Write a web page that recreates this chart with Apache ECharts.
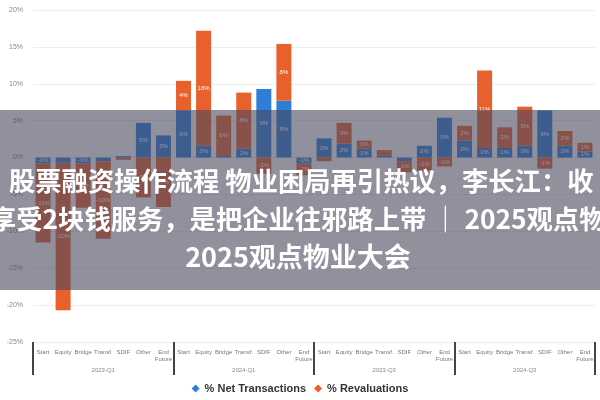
<!DOCTYPE html>
<html>
<head>
<meta charset="utf-8">
<script src="https://cdn.jsdelivr.net/npm/echarts@6/dist/echarts.min.js"></script>
<style>
html,body{margin:0;padding:0;background:#fff;}
#c{width:600px;height:400px;}
</style>
</head>
<body>
<div id="c"></div>
<script>
var categories = [
  "Start","Equity","Bridge","Transf.","SDIF","Other","End\nFuture",
  "Start","Equity","Bridge","Transf.","SDIF","Other","End\nFuture",
  "Start","Equity","Bridge","Transf.","SDIF","Other","End\nFuture",
  "Start","Equity","Bridge","Transf.","SDIF","Other","End\nFuture"
];
var groups = ["2023-Q1","2024-Q1","2023-Q3","2024-Q3"];
var netTransactions = [
  -0.8,-0.7,-0.8,-0.5,0.2,4.7,3.0,
  6.4,1.6,0.2,1.2,9.3,7.7,-0.8,
  2.6,1.9,1.2,0.3,-0.5,1.6,5.4,
  2.3,1.3,1.3,1.6,6.4,1.6,0.8
];
var revaluations = [
  -10.7,-20.0,-6.0,-10.5,-0.3,-5.4,-6.7,
  4.0,15.6,5.5,7.6,-2.2,7.7,-1.6,
  -0.5,2.8,1.1,0.7,-1.5,-1.8,-1.2,
  2.0,10.5,2.8,5.3,-1.5,2.0,1.2
];
var yTicks = {min:-25, max:20, interval:5};
var titleLines = [
  "股票融资操作流程 物业困局再引热议，李长江：收",
  "享受2块钱服务，是把企业往邪路上带 ｜ 2025观点物",
  "2025观点物业大会"
];

var chart = echarts.init(document.getElementById('c'));
function lbl(p){ return Math.abs(p.value) < 0.8 ? '' : Math.round(p.value) + '%'; }
chart.setOption({
  animation:false,
  grid:{left:33,right:5,top:10,bottom:58},
  legend:{
    bottom:1, left:'center', itemWidth:8, itemHeight:8, itemGap:8,
    textStyle:{fontSize:11,fontWeight:'bold',color:'#333'},
    data:[{name:'% Net Transactions',icon:'diamond'},{name:'% Revaluations',icon:'diamond'}]
  },
  xAxis:[
    {type:'category', data:categories, position:'bottom',
     axisLine:{show:false}, axisTick:{show:false},
     axisLabel:{fontSize:6,color:'#777',interval:0,margin:7,lineHeight:7}},
    {type:'category', data:groups, position:'bottom',
     axisLine:{show:false},
     axisTick:{show:true,length:33,lineStyle:{color:'#444',width:2}},
     axisLabel:{fontSize:6,color:'#888',margin:25}}
  ],
  yAxis:{type:'value', min:yTicks.min, max:yTicks.max, interval:yTicks.interval,
    axisLabel:{formatter:'{value}%',fontSize:7,color:'#888',margin:10},
    splitLine:{lineStyle:{color:'#eee'}}, axisLine:{show:false}, axisTick:{show:false}},
  series:[
    {name:'% Net Transactions', type:'bar', stack:'s', data:netTransactions, barWidth:15,
     itemStyle:{color:'#2f7ed8'},
     label:{show:true,position:'inside',color:'#fff',fontSize:6,formatter:lbl}},
    {name:'% Revaluations', type:'bar', stack:'s', data:revaluations, barWidth:15,
     itemStyle:{color:'#e8602c'},
     label:{show:true,position:'inside',color:'#fff',fontSize:6,formatter:lbl}}
  ],
  graphic:[
    {type:'rect', shape:{x:0,y:110,width:600,height:180}, style:{fill:'rgba(72,72,94,0.6)'}, z:100},
    {type:'text', x:9, y:181, z:101, style:{text:titleLines[0], fill:'#fff', font:'bold 26.3px "Noto Sans CJK SC"', textVerticalAlign:'middle'}},
    {type:'text', x:-10, y:219, z:101, style:{text:titleLines[1], fill:'#fff', font:'bold 26.3px "Noto Sans CJK SC"', textVerticalAlign:'middle'}},
    {type:'text', x:298, y:257, z:101, style:{text:titleLines[2], fill:'#fff', font:'bold 27px "Noto Sans CJK SC"', textAlign:'center', textVerticalAlign:'middle'}}
  ]
});
</script>
</body>
</html>
